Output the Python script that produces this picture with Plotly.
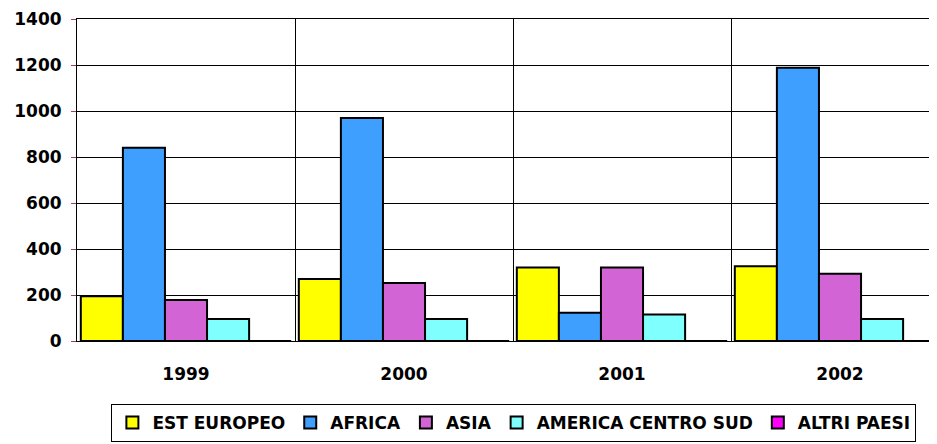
import plotly.graph_objects as go

years = ["1999", "2000", "2001", "2002"]
est_europeo = [195, 270, 320, 325]
africa = [840, 970, 123, 1188]
asia = [178, 252, 320, 292]
america_cs = [96, 96, 115, 96]
altri_paesi = [0, 0, 0, 0]

series = [
    ("EST EUROPEO", est_europeo, "#ffff00"),
    ("AFRICA", africa, "#3f9fff"),
    ("ASIA", asia, "#d264d6"),
    ("AMERICA CENTRO SUD", america_cs, "#80ffff"),
    ("ALTRI PAESI", altri_paesi, "#ff00ff"),
]

fig = go.Figure()
for name, vals, color in series:
    fig.add_trace(
        go.Bar(
            x=years,
            y=vals,
            name=name,
            marker=dict(color=color, line=dict(color="#000000", width=2)),
        )
    )

# page body has an 8px margin, so the figure is sized 8px smaller
fig.update_layout(
    width=929,
    height=436,
    barmode="group",
    bargap=0.035,
    bargroupgap=0,
    plot_bgcolor="#ffffff",
    paper_bgcolor="#ffffff",
    margin=dict(l=69, r=0, t=11, b=103),
    font=dict(family="DejaVu Sans", color="#000000"),
    xaxis=dict(
        type="category",
        range=[-0.5, -0.5 + 860 / 218],
        tickson="boundaries",
        ticks="",
        showgrid=True,
        gridcolor="#000000",
        gridwidth=1,
        showline=True,
        linecolor="#000000",
        linewidth=1,
        mirror=True,
        automargin=False,
        tickfont=dict(size=17, weight="bold"),
        ticklabelstandoff=18,
    ),
    yaxis=dict(
        range=[0, 1400],
        dtick=200,
        showgrid=True,
        gridcolor="#000000",
        gridwidth=1,
        showline=True,
        linecolor="#000000",
        linewidth=1,
        mirror=True,
        zeroline=False,
        automargin=False,
        ticks="outside",
        tickcolor="#a04050",
        ticklen=5,
        tickfont=dict(size=17, weight="bold"),
        ticklabelstandoff=6,
    ),
    legend=dict(
        orientation="h",
        x=0.508,
        xanchor="center",
        y=-0.3137,
        yanchor="bottom",
        bordercolor="#000000",
        borderwidth=1,
        bgcolor="#ffffff",
        font=dict(family="DejaVu Sans", size=17, weight="bold"),
        itemwidth=30,
        tracegroupgap=0,
    ),
)

fig.write_html("out.html")
